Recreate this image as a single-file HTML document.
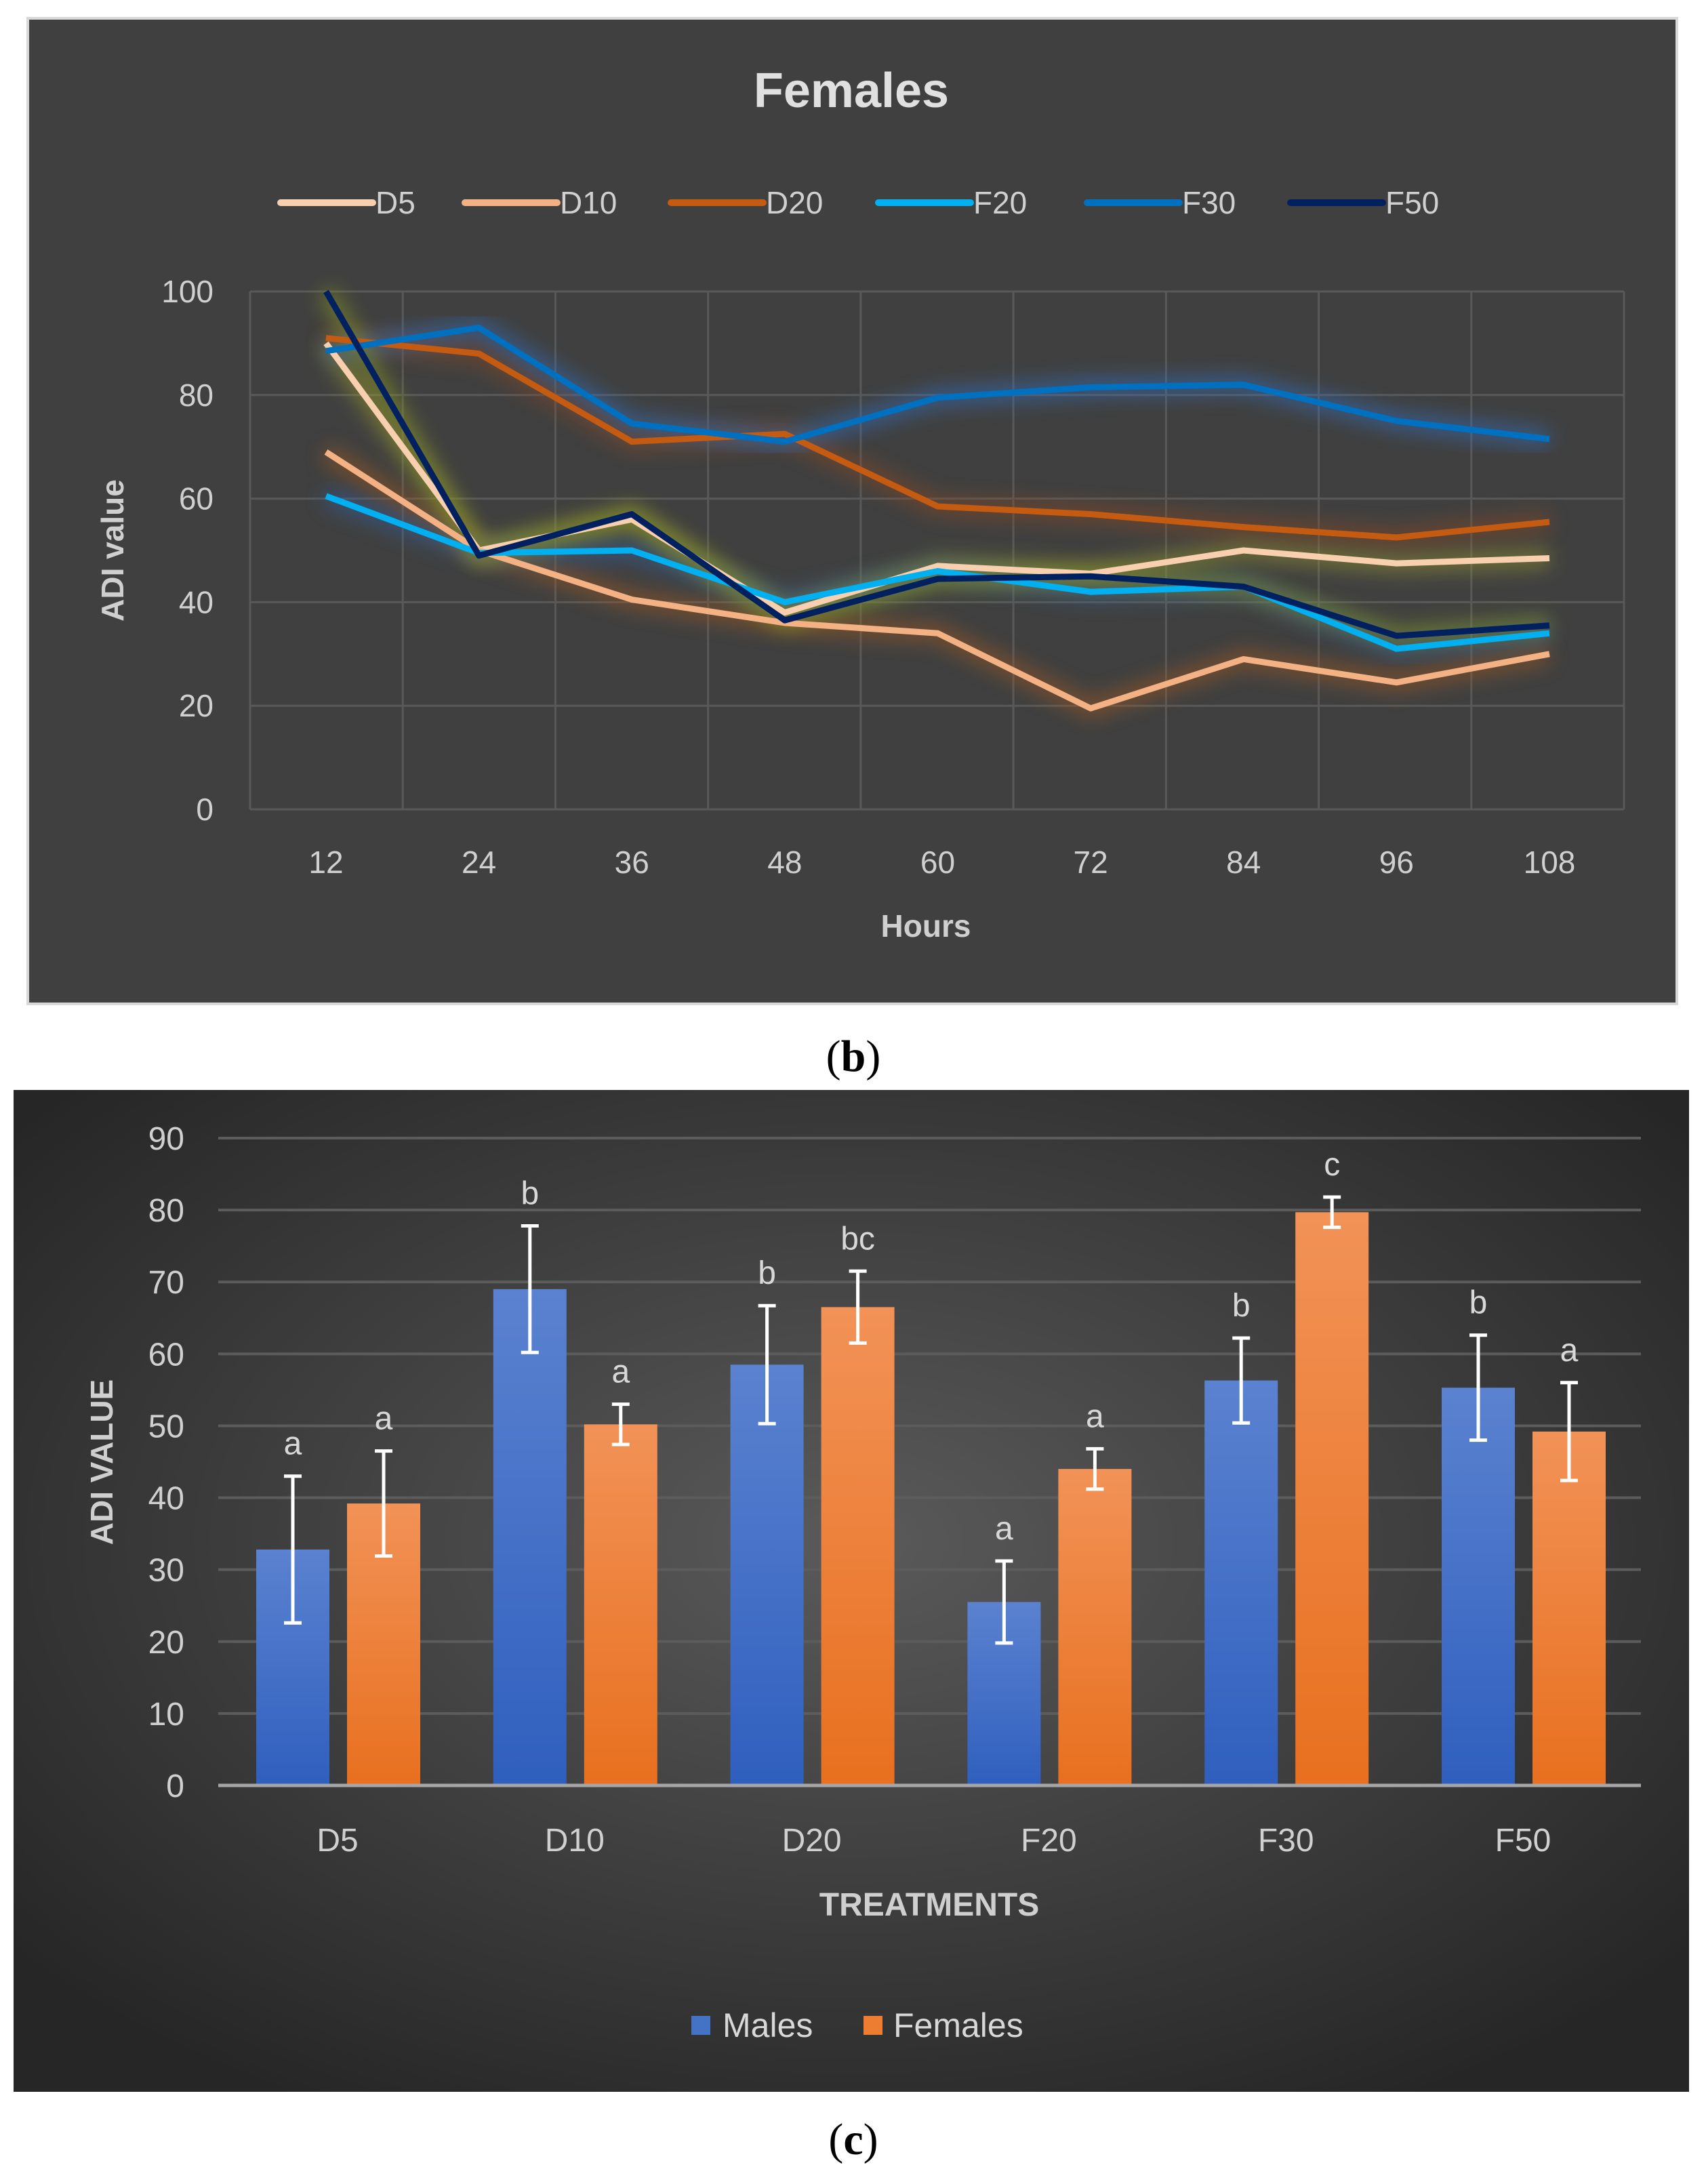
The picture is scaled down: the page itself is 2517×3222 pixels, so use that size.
<!DOCTYPE html>
<html><head><meta charset="utf-8"><style>
html,body{margin:0;padding:0;background:#fff;width:2517px;height:3222px;overflow:hidden}
svg{display:block}
text{font-family:"Liberation Sans Narrow","Liberation Sans",sans-serif}
</style></head><body>
<svg id="s" width="2517" height="3222" viewBox="0 0 2517 3222" xmlns="http://www.w3.org/2000/svg">
<defs>
<filter id="glow" x="-10%" y="-10%" width="120%" height="120%"><feGaussianBlur stdDeviation="14"/></filter>
<radialGradient id="bg2" cx="50%" cy="45%" r="65%"><stop offset="0" stop-color="#5a5a5a"/><stop offset="1" stop-color="#262626"/></radialGradient>
<linearGradient id="gm" x1="0" y1="0" x2="0" y2="1"><stop offset="0" stop-color="#5b82d0"/><stop offset="1" stop-color="#2f5fbe"/></linearGradient>
<linearGradient id="gf" x1="0" y1="0" x2="0" y2="1"><stop offset="0" stop-color="#f29257"/><stop offset="1" stop-color="#e8701f"/></linearGradient>
</defs>
<g id="topchart">
<rect x="41" y="27" width="2433" height="1454" fill="#404040" stroke="#d8d8d8" stroke-width="4"/>
<text x="1256" y="158" text-anchor="middle" font-size="72" font-weight="bold" fill="#e0e0e0">Females</text>
<text x="1366" y="1382" text-anchor="middle" font-size="46" font-weight="bold" fill="#cfcfcf">Hours</text>
<text transform="translate(182,812) rotate(-90)" text-anchor="middle" font-size="46" font-weight="bold" fill="#cfcfcf">ADI value</text>
</g>
<text x="1259" y="1580" text-anchor="middle" font-size="66" fill="#000" style="font-family:'Liberation Serif',serif">(<tspan font-weight="bold">b</tspan>)</text>
<g id="botchart">
<rect x="20" y="1608" width="2472" height="1478" fill="url(#bg2)"/>
<text x="1371" y="2826" text-anchor="middle" font-size="48" font-weight="bold" fill="#cfcfcf">TREATMENTS</text>
<text transform="translate(166,2157) rotate(-90)" text-anchor="middle" font-size="46" font-weight="bold" fill="#cfcfcf" style="font-family:'Liberation Sans',sans-serif">ADI VALUE</text>
</g>
<text x="1259" y="3178" text-anchor="middle" font-size="66" fill="#000" style="font-family:'Liberation Serif',serif">(<tspan font-weight="bold">c</tspan>)</text>
</svg>
<script>
const hours=[12,24,36,48,60,72,84,96,108];
const yTicksTop=[0,20,40,60,80,100];
const seriesNames=["D5","D10","D20","F20","F30","F50"];
const sD5=[90,50,56,38,47,45.5,50,47.5,48.5];
const sD10=[69,50,40.5,36,34,19.5,29,24.5,30];
const sD20=[91,88,71,72.5,58.5,57,54.5,52.5,55.5];
const sF20=[60.5,49.5,50,40,46,42,43,31,34];
const sF30=[88.5,93,74.5,71,79.5,81.5,82,75,71.5];
const sF50=[100,49,57,36.5,44.5,45,43,33.5,35.5];
const categories=["D5","D10","D20","F20","F30","F50"];
const males=[32.8,69,58.5,25.5,56.3,55.3];
const malesErr=[10.2,8.8,8.2,5.7,5.9,7.3];
const malesLetters=["a","b","b","a","b","b"];
const females=[39.2,50.2,66.5,44,79.7,49.2];
const femalesErr=[7.3,2.8,5,2.8,2.1,6.8];
const femalesLetters=["a","a","bc","a","c","a"];
const yTicksBot=[0,10,20,30,40,50,60,70,80,90];

const NS="http://www.w3.org/2000/svg";
function mk(p,tag,a,txt){const e=document.createElementNS(NS,tag);for(const k in a)e.setAttribute(k,a[k]);if(txt!==undefined)e.textContent=txt;p.appendChild(e);return e;}
const topG=document.getElementById('topchart');
const xT=i=>481+i*(2286-481)/(hours.length-1);
const yT=v=>1194-(v/100)*(1194-430);
const pL=369,pR=2396;
yTicksTop.forEach(v=>{
 const g=mk(topG,'line',{x1:pL,x2:pR,y1:yT(v),y2:yT(v),stroke:'#595959','stroke-width':3});
 
 
 const t=mk(topG,'text',{x:315,y:yT(v)+16,'text-anchor':'end','font-size':46,fill:'#d0d0d0'},v);
 
 
});
for(let i=0;i<=hours.length;i++){
 const x=pL+i*(pR-pL)/hours.length;
 const g=mk(topG,'line',{x1:x,x2:x,y1:430,y2:1194,stroke:'#595959','stroke-width':3});
 
 
}
hours.forEach((h,i)=>{
 const t=mk(topG,'text',{x:xT(i),y:1288,'text-anchor':'middle','font-size':46,fill:'#d0d0d0'},h);
 
 
});
const lineData=[sD5,sD10,sD20,sF20,sF30,sF50];
const colors=["#f8d0b0","#f4b183","#c55a11","#00b0f0","#0070c0","#002060"];
const glows=["#9a9a30","#a05a20","#8a4a20","#3060a0","#3070c0","#8a9a20"];
lineData.forEach((d,si)=>{
 const pts=d.map((v,i)=>xT(i)+','+yT(v)).join(' ');
 const gl=mk(topG,'polyline',{points:pts,fill:'none',stroke:glows[si],'stroke-width':28,opacity:0.55,filter:'url(#glow)'});
 
 
});
lineData.forEach((d,si)=>{
 const pts=d.map((v,i)=>xT(i)+','+yT(v)).join(' ');
 const l=mk(topG,'polyline',{points:pts,fill:'none',stroke:colors[si],'stroke-width':9,'stroke-linejoin':'round'});
 
 
});
const legX=[414,686,990,1296,1604,1904];
seriesNames.forEach((n,i)=>{
 const g=mk(topG,'g',{});
 
 
 mk(g,'line',{x1:legX[i],x2:legX[i]+136,y1:299,y2:299,stroke:colors[i],'stroke-width':10,'stroke-linecap':'round'});
 mk(g,'text',{x:legX[i]+140,y:315,'font-size':46,fill:'#d0d0d0'},n);
});
const botG=document.getElementById('botchart');
const yB=v=>2634-(v/90)*(2634-1679);
const xB=i=>498+i*(2247-498)/(categories.length-1);
const bL=322,bR=2421,bw=108;
yTicksBot.forEach(v=>{
 if(v>0){const g=mk(botG,'line',{x1:bL,x2:bR,y1:yB(v),y2:yB(v),stroke:'#5c5c5c','stroke-width':4});
 
 }
 const t=mk(botG,'text',{x:272,y:yB(v)+17,'text-anchor':'end','font-size':48,fill:'#d0d0d0'},v);
 
 
});
function bar(i,v,e,lt,off,fill,nm){
 const cx=xB(i)+off;
 const r=mk(botG,'rect',{x:cx-bw/2,y:yB(v),width:bw,height:yB(0)-yB(v),fill:fill});
 
 
 const g=mk(botG,'g',{stroke:'#fff','stroke-width':5});
 
 
 mk(g,'line',{x1:cx,x2:cx,y1:yB(v+e),y2:yB(v-e)});
 mk(g,'line',{x1:cx-13,x2:cx+13,y1:yB(v+e),y2:yB(v+e)});
 mk(g,'line',{x1:cx-13,x2:cx+13,y1:yB(v-e),y2:yB(v-e)});
 const t=mk(botG,'text',{x:cx,y:yB(v+e)-32,'text-anchor':'middle','font-size':48,fill:'#d8d8d8'},lt);
 
 
}
categories.forEach((c,i)=>{
 bar(i,males[i],malesErr[i],malesLetters[i],-66,'url(#gm)','males');
 bar(i,females[i],femalesErr[i],femalesLetters[i],68,'url(#gf)','females');
 const t=mk(botG,'text',{x:xB(i),y:2731,'text-anchor':'middle','font-size':48,fill:'#d0d0d0'},c);
 
 
});
const ax=mk(botG,'line',{x1:bL,x2:bR,y1:yB(0),y2:yB(0),stroke:'#a6a6a6','stroke-width':5});


const lm=mk(botG,'g',{});


mk(lm,'rect',{x:1020,y:2974,width:28,height:28,fill:'#4472c4'});
mk(lm,'text',{x:1066,y:3005,'font-size':50,fill:'#d8d8d8'},'Males');
const lf=mk(botG,'g',{});


mk(lf,'rect',{x:1274,y:2974,width:28,height:28,fill:'#ed7d31'});
mk(lf,'text',{x:1318,y:3005,'font-size':50,fill:'#d8d8d8'},'Females');
</script>
</body></html>
